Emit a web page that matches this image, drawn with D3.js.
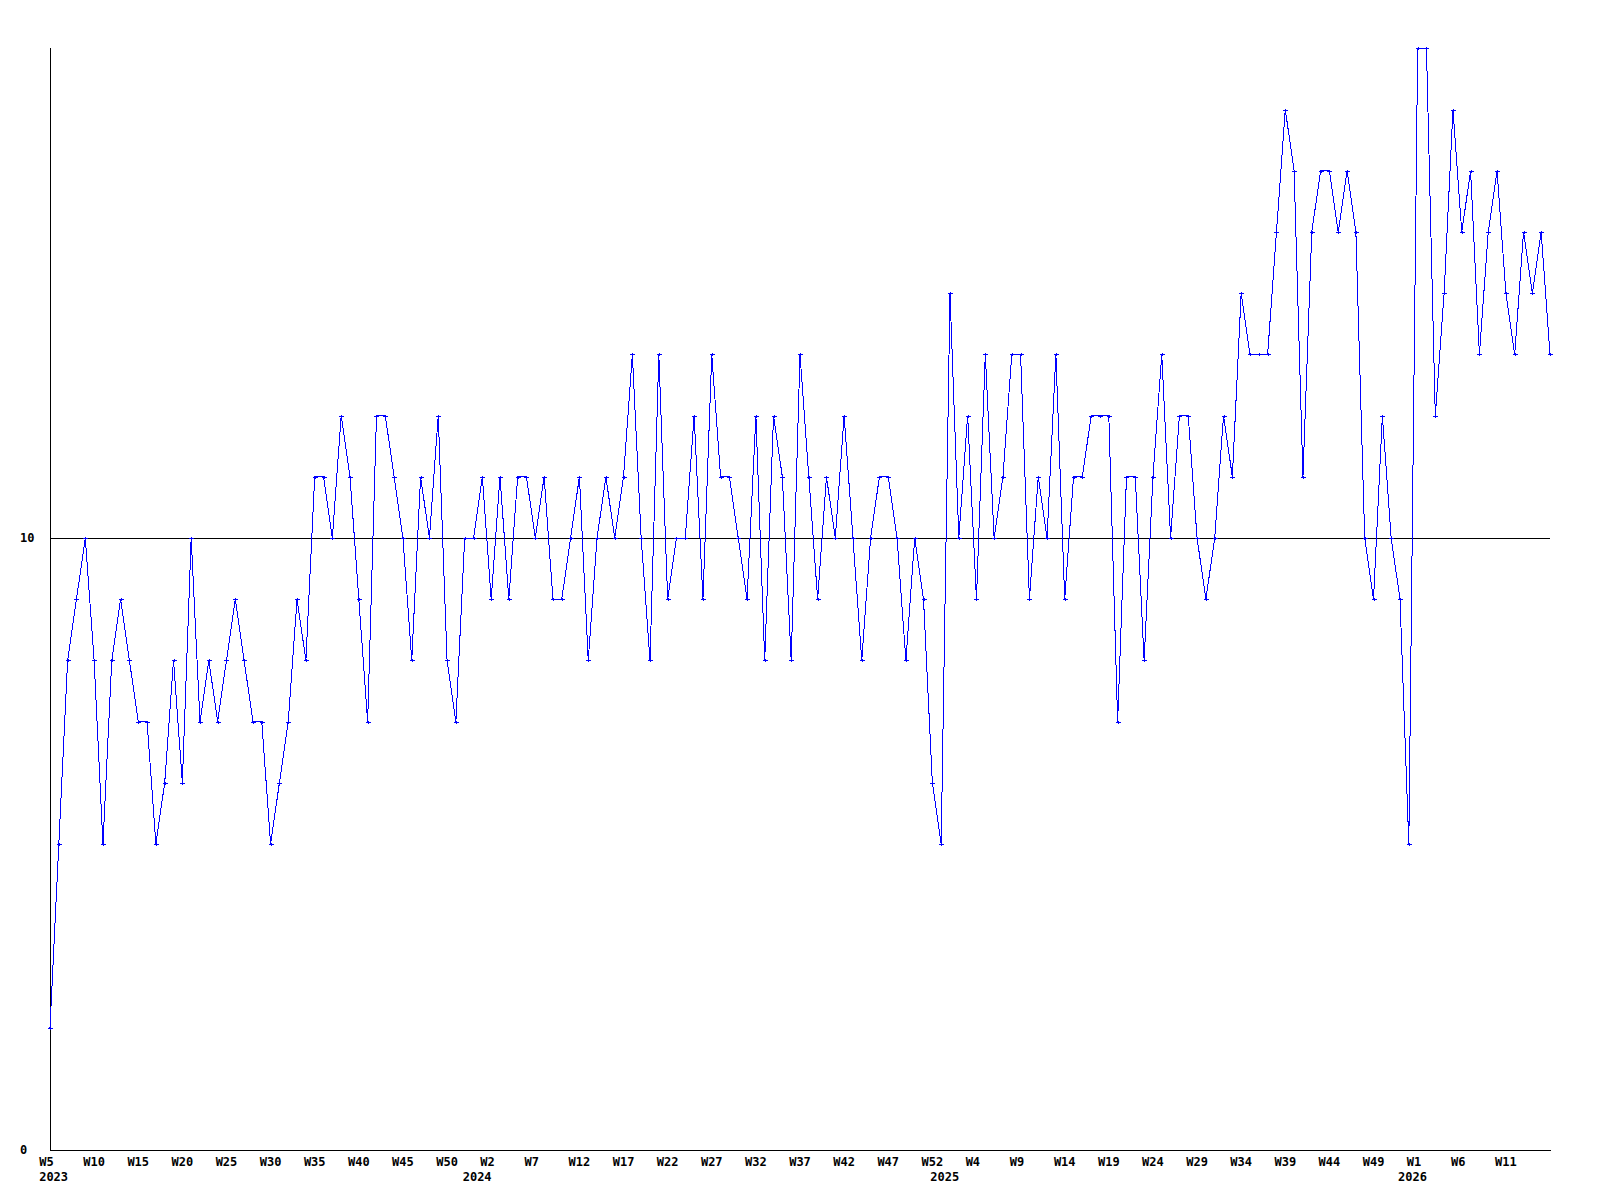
<!DOCTYPE html>
<html>
<head>
<meta charset="utf-8">
<script src="https://cdn.jsdelivr.net/npm/d3@7"></script>
<style>
  html, body { margin: 0; padding: 0; background: #ffffff; }
  svg { display: block; }
  text { font-family: "DejaVu Sans Mono", "Liberation Mono", monospace; font-weight: bold; font-size: 12px; fill: #000; }
</style>
</head>
<body>
<svg id="chart" width="1600" height="1200"></svg>
<script>
// ---- data ----
// week ranges per year (year, first week, last week) that form the categories
const weekRanges = [
  [2023, 5, 53],
  [2024, 1, 53],
  [2025, 1, 53],
  [2026, 1, 16]
];

// one value per week
const values = [
  2,5,8,9,10,8,5,8,9,8,7,7,5,6,8,6,10,7,8,7,8,9,8,7,7,5,6,7,9,
  8,11,11,10,12,11,9,7,12,12,11,10,8,11,10,12,8,7,10,10,11,9,11,9,11,11,10,11,
  9,9,10,11,8,10,11,10,11,13,10,8,13,9,10,10,12,9,13,11,11,10,9,12,8,12,11,8,13,
  11,9,11,10,12,10,8,10,11,11,10,8,10,9,6,5,14,10,12,9,13,10,11,13,13,9,11,10,13,
  9,11,11,12,12,12,7,11,11,8,11,13,10,12,12,10,9,10,12,11,14,13,13,13,15,17,16,
  11,15,16,16,15,16,15,10,9,12,10,9,5,18,18,12,14,17,15,16,13,15,16,14,13,15,14,15,13
];

// year labels and the category where each is written
const yearLabels = ["2023", "2024", "2025", "2026"];
const yearLabelWeeks = ["2023-W5", "2023-W53", "2024-W53", "2025-W53"];

// y-axis labels
const yTickValues = [0, 10];
const yMax = 18;

// categories
const categories = [];
weekRanges.forEach(([yr, a, b]) => { for (let w = a; w <= b; w++) categories.push(yr + "-W" + w); });
const weekName = c => "W" + c.split("-W")[1];

// ---- layout ----
const svg = d3.select("#chart");
const plotLeft = 50, plotRight = 1550, plotTop = 48.4, plotBottom = 1150;
const charW = 7.22;

const x = d3.scalePoint().domain(categories).range([plotLeft, plotRight]);
const y = d3.scaleLinear().domain([0, yMax]).range([plotBottom, plotTop]);

// horizontal reference line at 10
svg.append("g").selectAll("line").data(yTickValues.filter(v => v > 0)).join("line")
  .attr("x1", plotLeft).attr("x2", plotRight)
  .attr("y1", d => Math.round(y(d)) + 0.5).attr("y2", d => Math.round(y(d)) + 0.5)
  .attr("stroke", "#000").attr("stroke-width", 1).attr("shape-rendering", "crispEdges");

// axes lines
svg.append("line").attr("x1", plotLeft + 0.5).attr("x2", plotLeft + 0.5)
  .attr("y1", Math.round(plotTop)).attr("y2", plotBottom + 0.5)
  .attr("stroke", "#000").attr("stroke-width", 1).attr("shape-rendering", "crispEdges");
svg.append("line").attr("x1", plotLeft).attr("x2", plotRight + 0.5)
  .attr("y1", plotBottom + 0.5).attr("y2", plotBottom + 0.5)
  .attr("stroke", "#000").attr("stroke-width", 1).attr("shape-rendering", "crispEdges");

// y labels
svg.append("g").selectAll("text").data(yTickValues).join("text")
  .attr("x", 20).attr("y", d => y(d)).attr("dy", "0.35em")
  .attr("text-anchor", "start")
  .text(d => d);

// x week labels (every 5th category, only those that fit inside the plot)
const tickCats = categories.filter((c, i) => i % 5 === 0 && x(c) + 1.5 * charW <= plotRight);
svg.append("g").selectAll("text").data(tickCats).join("text")
  .attr("x", d => x(d) - 1.5 * charW).attr("y", 1166)
  .attr("text-anchor", "start")
  .text(d => weekName(d));

// year labels
svg.append("g").selectAll("text").data(yearLabels).join("text")
  .attr("x", (d, i) => x(yearLabelWeeks[i]) - 1.5 * charW).attr("y", 1181)
  .attr("text-anchor", "start")
  .text(d => d);

// data line
const pts = categories.map((c, i) => ({ c, v: values[i] }));
svg.append("path").datum(pts)
  .attr("fill", "none").attr("stroke", "#0000ff").attr("stroke-width", 1)
  .attr("shape-rendering", "crispEdges")
  .attr("d", d3.line().x(d => x(d.c)).y(d => y(d.v)));

// markers
svg.append("g").selectAll("path").data(pts).join("path")
  .attr("transform", d => `translate(${Math.round(x(d.c))},${Math.round(y(d.v))})`)
  .attr("d", "M-2,0.5H3M0.5,-1V2")
  .attr("stroke", "#0000ff").attr("stroke-width", 1.6).attr("fill", "none")
  .attr("shape-rendering", "crispEdges");
</script>
</body>
</html>
